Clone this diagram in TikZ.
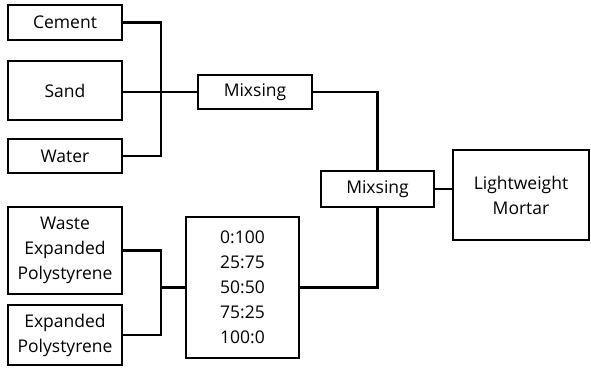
\documentclass[tikz,border=0pt]{standalone}
\usepackage{fontspec}
\setmainfont{Open Sans}
\begin{document}
\begin{tikzpicture}[x=1pt,y=1pt,
  box/.style={draw,line width=1.4pt,inner sep=0pt,align=center,font=\fontsize{17.5}{25}\selectfont},
  conn/.style={line width=2.1pt}]
\useasboundingbox (0,0) rectangle (591,-369);
\node[box,minimum width=114,minimum height=35] (cement) at (65,-22.5) {Cement};
\node[box,minimum width=114,minimum height=59] (sand) at (65,-90.5) {Sand};
\node[box,minimum width=114,minimum height=34] (water) at (65,-156) {Water};
\node[box,minimum width=114,minimum height=34] (mix1) at (255,-92) {Mixsing};
\node[box,minimum width=113,minimum height=36] (mix2) at (377.5,-189) {Mixsing};
\node[box,minimum width=136,minimum height=90] (lm) at (521,-195) {Lightweight\\Mortar};
\node[box,minimum width=113,minimum height=141] (ratio) at (242.5,-287.5) {0:100\\25:75\\50:50\\75:25\\100:0};
\node[box,minimum width=114,minimum height=87] (weps) at (65,-250.5) {Waste\\Expanded\\Polystyrene};
\node[box,minimum width=114,minimum height=60] (eps) at (65,-335) {Expanded\\Polystyrene};
\coordinate (bus) at (161,0);
\draw[conn] (cement.east) -- (cement.east -| bus) -- (water.east -| bus) -- (water.east);
\draw[conn] (mix1.west -| sand.east) -- (mix1.west);
\draw[conn] (mix1.east) -| (mix2.north);
\draw[conn] (mix2.south) |- (ratio.east);
\draw[conn] (mix2.east) -- (mix2.east -| lm.west);
\draw[conn] (weps.east) -- (weps.east -| bus) -- (eps.east -| bus) -- (eps.east);
\draw[conn] (ratio.west) -- (ratio.west -| bus);
\end{tikzpicture}
\end{document}
